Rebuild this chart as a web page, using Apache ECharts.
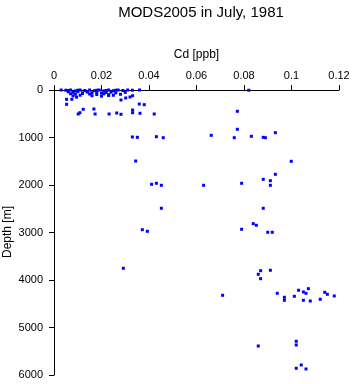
<!DOCTYPE html>
<html>
<head>
<meta charset="utf-8">
<script src="https://cdn.jsdelivr.net/npm/echarts@6/dist/echarts.min.js"></script>
<style>
  html, body { margin: 0; padding: 0; background: #fff; }
  #chart { width: 353px; height: 384px; }
</style>
</head>
<body>
<div id="chart"></div>
<script>
// Cd [ppb] values
var cdValues = [
  // surface cluster
  0.003, 0.005, 0.006, 0.007, 0.009, 0.010, 0.011, 0.013, 0.014, 0.015, 0.017, 0.018,
  0.019, 0.021, 0.022, 0.023, 0.025, 0.026, 0.027, 0.029, 0.031, 0.033, 0.036,
  0.006, 0.008, 0.010, 0.012, 0.014, 0.016, 0.018, 0.020, 0.022, 0.024, 0.026, 0.030,
  0.007, 0.009, 0.012, 0.015, 0.018, 0.021, 0.023, 0.028,
  0.008, 0.011, 0.016, 0.020, 0.023, 0.025,
  0.0053, 0.0053, 0.0075, 0.0095, 0.0102, 0.0109, 0.0123, 0.0168, 0.0173, 0.0232, 0.0264, 0.0282,
  0.0282, 0.0302, 0.0320, 0.0331, 0.0331, 0.0331, 0.0359, 0.0380, 0.0362, 0.0422,
  // mid column
  0.0330, 0.0351, 0.0431, 0.0460, 0.0344, 0.0411, 0.0431, 0.0452, 0.0452, 0.0372, 0.0393, 0.0292,
  // deep column
  0.082, 0.0772, 0.0772, 0.0662, 0.0759, 0.0831, 0.0881, 0.0890, 0.0932, 0.0999,
  0.0932, 0.0881, 0.0911, 0.0911, 0.0630, 0.0790, 0.0881, 0.0839, 0.0852, 0.0790,
  0.0900, 0.0919, 0.0870, 0.0860, 0.0911, 0.0870, 0.0710, 0.0940, 0.0970, 0.0970,
  0.1012, 0.1030, 0.1050, 0.1061, 0.1071, 0.1050, 0.1079, 0.1121, 0.1140, 0.1151,
  0.1180, 0.1020, 0.1020, 0.0860, 0.1041, 0.1020, 0.1061
];
// Depth [m] values, same order
var depthValues = [
  0, 5, 10, 0, 20, 5, 0, 10, 30, 0, 15, 5,
  0, 20, 10, 0, 15, 5, 0, 10, 0, 5, 0,
  40, 50, 35, 60, 45, 55, 40, 65, 50, 45, 60, 50,
  80, 90, 75, 85, 95, 80, 100, 90,
  125, 110, 120, 130, 115, 110,
  196, 301, 196, 150, 505, 478, 406, 400, 505, 505, 484, 512,
  210, 168, 147, 120, 421, 478, 295, 309, 490, 505,
  989, 996, 983, 1004, 1495, 1985, 1964, 2006, 2490, 2941, 2974, 3753,
  5, 448, 827, 954, 1004, 975, 996, 1004, 899, 1501,
  1775, 1880, 1909, 2006, 2006, 1964, 2490, 2814, 2848, 2932,
  2995, 2995, 3804, 3880, 3795, 3972, 4322, 4280, 4364, 4427,
  4343, 4216, 4252, 4280, 4183, 4427, 4442, 4406, 4259, 4301,
  4336, 5290, 5368, 5389, 5789, 5858, 5873
];

var points = cdValues.map(function (cd, i) {
  return [cd, depthValues[i]]
});

var labelFont = 'Liberation Sans, Arial, sans-serif';

var myChart = echarts.init(document.getElementById('chart'));
var option = {
  animation: false,
  backgroundColor: '#ffffff',
  title: {
    text: 'MODS2005 in July, 1981',
    left: 196,
    textAlign: 'center',
    top: 0,
    textStyle: {
      fontFamily: labelFont,
      fontWeight: 'normal',
      fontSize: 15,
      color: '#000'
    }
  },
  // y axis name drawn as a rotated text so it is not pushed off the page
  graphic: [{
    type: 'text',
    x: 8,
    y: 232,
    rotation: Math.PI / 2,
    style: {
      text: 'Depth [m]',
      fontFamily: labelFont,
      fontSize: 12,
      fill: '#000',
      align: 'center',
      verticalAlign: 'middle'
    }
  }],
  grid: {
    left: 54,
    top: 90,
    width: 285,
    height: 285,
    containLabel: false,
    outerBoundsMode: 'none'
  },
  xAxis: {
    type: 'value',
    position: 'top',
    min: 0,
    max: 0.12,
    interval: 0.02,
    name: 'Cd [ppb]',
    nameLocation: 'middle',
    nameGap: 29,
    nameTextStyle: { fontFamily: labelFont, fontSize: 12, color: '#000' },
    axisLine: { show: true, onZero: false, lineStyle: { color: '#000', width: 1 } },
    axisTick: { show: true, length: 5, lineStyle: { color: '#000' } },
    axisLabel: { fontFamily: labelFont, fontSize: 11, color: '#000', margin: 9 },
    splitLine: { show: false }
  },
  yAxis: {
    type: 'value',
    inverse: true,
    min: 0,
    max: 6000,
    interval: 1000,
    axisLine: { show: true, onZero: false, lineStyle: { color: '#000', width: 1 } },
    axisTick: { show: true, length: 5, lineStyle: { color: '#000' } },
    axisLabel: {
      fontFamily: labelFont, fontSize: 11, color: '#000', margin: 11,
      formatter: function (v) { return String(v) }
    },
    splitLine: { show: false }
  },
  series: [{
    type: 'scatter',
    data: points,
    symbol: 'rect',
    symbolSize: 3,
    itemStyle: { color: '#0000ff', opacity: 1 }
  }]
};
myChart.setOption(option);
</script>
</body>
</html>
